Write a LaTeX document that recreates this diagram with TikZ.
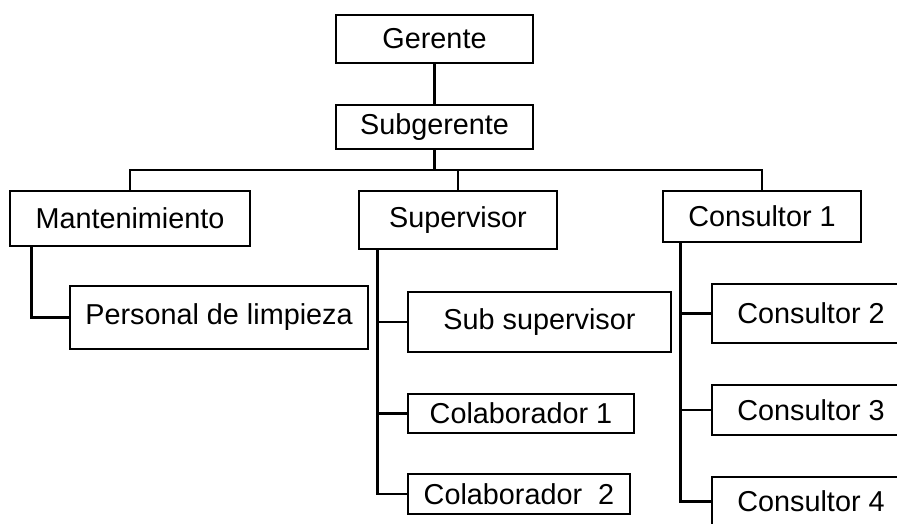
\documentclass[tikz,border=0pt]{standalone}
\usepackage{fontspec}
\setmainfont{Liberation Sans}
\begin{document}
\begin{tikzpicture}[x=1pt, y=-1pt, line width=2.6pt]
   \useasboundingbox (0,0) rectangle (897,523);
   \clip (0,0) rectangle (897,523);
   \tikzstyle{main}=[rectangle, draw=black, inner sep=0pt, font=\fontsize{28.8}{34}\selectfont]
   \node[main, minimum width=197, minimum height=48] (gerente) at (434.5,39) {Gerente};
   \node[main, minimum width=197, minimum height=44] (subgerente) at (434.5,127) {Subgerente};
   \node[main, minimum width=240, minimum height=55] (mant) at (130,218.5) {Mantenimiento};
   \node[main, minimum width=198, minimum height=58] (superv) at (458,220) {Supervisor};
   \node[main, minimum width=198, minimum height=51] (cons1) at (762,216.5) {Consultor 1};
   \node[main, minimum width=298, minimum height=63] (limpieza) at (219,317.5) {Personal de limpieza};
   % level 1
   \path (gerente) edge (subgerente);
   \coordinate (bus) at (434.5,170);
   \draw (mant.north) |- (bus) -| (cons1.north);
   \draw (subgerente.south) -- (bus);
   \draw (superv.north) -- (superv.north |- bus);
   \draw ([xshift=23]mant.south west) |- (limpieza.west);
   % supervisor
   \foreach \n/\word/\x/\y/\w/\h in {subsup/{Sub supervisor}/539.5/322/263/60,colab1/{Colaborador 1}/521/413.5/226/39,colab2/{Colaborador\ \ 2}/519/494/222/40} {
       \node[main, minimum width=\w, minimum height=\h] (\n) at (\x,\y) {\word};
       \draw ([xshift=20]superv.south west) |- (\n.west);
   }
   % consultores
   \foreach \n/\word/\y/\h in {cons2/{Consultor 2}/313.5/59,cons3/{Consultor 3}/410/50,cons4/{Consultor 4}/501.5/49} {
       \node[main, minimum width=198, minimum height=\h] (\n) at (811,\y) {\word};
       \draw ([xshift=19]cons1.south west) |- (\n.west);
   }
\end{tikzpicture}
\end{document}
